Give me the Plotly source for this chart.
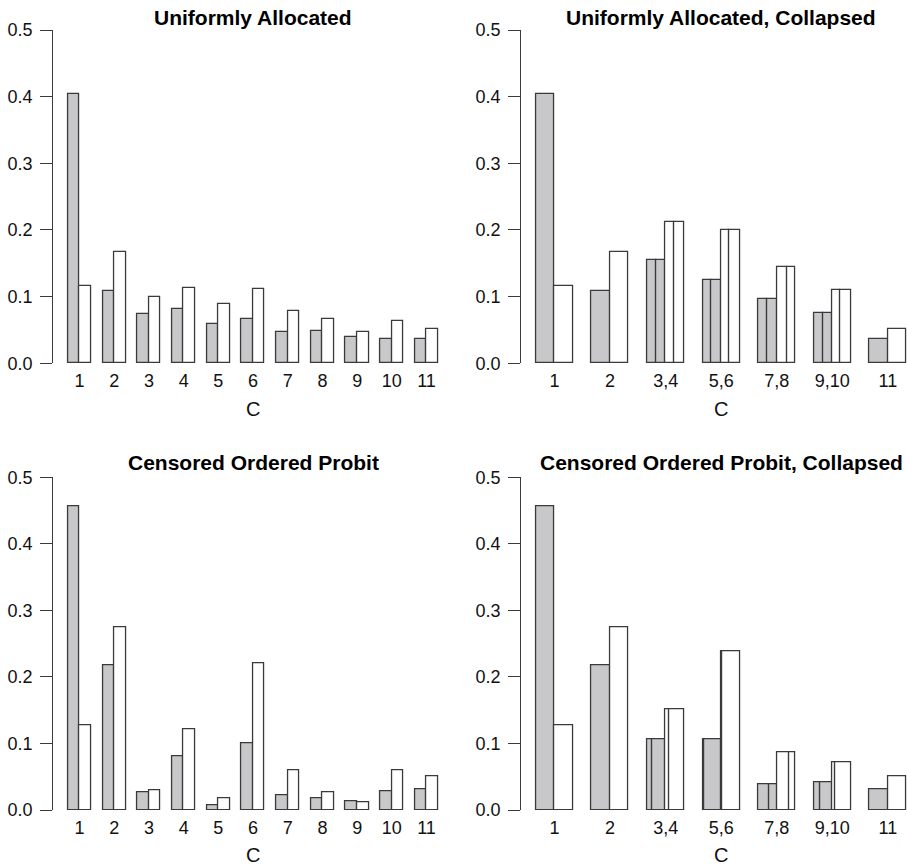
import plotly.graph_objects as go

# ---------------- data ----------------
categories = ["1", "2", "3", "4", "5", "6", "7", "8", "9", "10", "11"]

uniform_gray = [0.404, 0.109, 0.074, 0.081, 0.059, 0.066, 0.047, 0.049, 0.039, 0.036, 0.037]
uniform_white = [0.116, 0.167, 0.099, 0.113, 0.089, 0.111, 0.079, 0.066, 0.047, 0.063, 0.052]

probit_gray = [0.457, 0.217, 0.027, 0.080, 0.007, 0.100, 0.022, 0.017, 0.013, 0.028, 0.031]
probit_white = [0.127, 0.274, 0.030, 0.121, 0.017, 0.221, 0.059, 0.027, 0.012, 0.060, 0.051]

collapsed_groups = [["1"], ["2"], ["3", "4"], ["5", "6"], ["7", "8"], ["9", "10"], ["11"]]
collapsed_labels = ["1", "2", "3,4", "5,6", "7,8", "9,10", "11"]

titles = ["Uniformly Allocated", "Uniformly Allocated, Collapsed",
          "Censored Ordered Probit", "Censored Ordered Probit, Collapsed"]
y_ticks = [0.0, 0.1, 0.2, 0.3, 0.4, 0.5]
x_title = "C"

# ---------------- styling ----------------
W, H = 907, 868
FONT = "Liberation Sans"
GRAY = "#c8c8ca"
WHITE = "#ffffff"
EDGE = "#3a3a3a"
LW = 1.3

fig = go.Figure()


def px_x(p):
    return p / W


def px_y(p):
    return 1 - p / H


# panel geometry (pixels)
left_dom = [px_x(53.2), px_x(452.9)]
right_dom = [px_x(521.2), 1.0]
top_dom = [px_y(363.3), px_y(30.0)]
bot_dom = [px_y(810.0), px_y(477.3)]

panels = [
    dict(ax="", xd=left_dom, yd=top_dom, rng=[-0.28, 34.28], kind="full",
         g=uniform_gray, w=uniform_white, cx=253.0, ty=17.0, cy=409.0),
    dict(ax="2", xd=right_dom, yd=top_dom, rng=[0.2, 21.03], kind="coll",
         g=uniform_gray, w=uniform_white, cx=721.0, ty=17.0, cy=409.0),
    dict(ax="3", xd=left_dom, yd=bot_dom, rng=[-0.28, 34.28], kind="full",
         g=probit_gray, w=probit_white, cx=253.0, ty=462.0, cy=855.0),
    dict(ax="4", xd=right_dom, yd=bot_dom, rng=[0.2, 21.03], kind="coll",
         g=probit_gray, w=probit_white, cx=721.0, ty=462.0, cy=855.0),
]

annotations = []
for i, p in enumerate(panels):
    xa = "x" + p["ax"]
    ya = "y" + p["ax"]
    if p["kind"] == "full":
        n = len(categories)
        for vals, off, col in ((p["g"], 1.5, GRAY), (p["w"], 2.5, WHITE)):
            fig.add_trace(go.Bar(
                x=[3 * k + off for k in range(n)], y=vals, width=[1.0] * n,
                marker=dict(color=col, line=dict(color=EDGE, width=LW)),
                xaxis=xa, yaxis=ya, showlegend=False, hoverinfo="y"))
        tickvals = [3 * k + 2 for k in range(n)]
        ticktext = categories
    else:
        for vals, off, col in ((p["g"], 1.0, GRAY), (p["w"], 2.0, WHITE)):
            xs, ys, ws = [], [], []
            for gi, grp in enumerate(collapsed_groups):
                comps = [vals[categories.index(c)] for c in grp]
                total = sum(comps)
                start = 3 * gi + off
                for c in comps:
                    frac = c / total
                    xs.append(start + frac / 2)
                    ws.append(frac)
                    ys.append(total)
                    start += frac
            fig.add_trace(go.Bar(
                x=xs, y=ys, width=ws,
                marker=dict(color=col, line=dict(color=EDGE, width=LW)),
                xaxis=xa, yaxis=ya, showlegend=False, hoverinfo="y"))
        tickvals = [3 * k + 2 for k in range(len(collapsed_groups))]
        ticktext = collapsed_labels

    fig.layout["xaxis" + p["ax"]] = dict(
        domain=p["xd"], range=p["rng"], anchor=ya, showline=False,
        showgrid=False, zeroline=False, tickvals=tickvals, ticktext=ticktext,
        ticks="outside", ticklen=1, tickcolor="rgba(0,0,0,0)", automargin=False,
        tickfont=dict(family=FONT, size=18, color="#111111"), fixedrange=True)
    fig.layout["yaxis" + p["ax"]] = dict(
        domain=p["yd"], range=[0, 0.5], anchor=xa, showline=True,
        linecolor=EDGE, linewidth=1.3, showgrid=False, zeroline=False,
        tickvals=y_ticks, ticktext=["%.1f" % v for v in y_ticks],
        ticks="outside", ticklen=12, tickwidth=1.3, tickcolor=EDGE,
        ticklabelstandoff=4, automargin=False,
        tickfont=dict(family=FONT, size=18, color="#111111"), fixedrange=True)

    annotations.append(dict(
        text="<b>%s</b>" % titles[i], x=px_x(p["cx"]), y=px_y(p["ty"]),
        xref="paper", yref="paper", xanchor="center", yanchor="middle",
        showarrow=False, font=dict(family=FONT, size=21, color="#000000")))
    annotations.append(dict(
        text=x_title, x=px_x(p["cx"]), y=px_y(p["cy"]),
        xref="paper", yref="paper", xanchor="center", yanchor="middle",
        showarrow=False, font=dict(family=FONT, size=20, color="#111111")))

fig.update_layout(
    width=W, height=H, margin=dict(l=0, r=0, t=0, b=0, pad=0),
    paper_bgcolor="white", plot_bgcolor="white", template="none",
    barmode="overlay", bargap=0, annotations=annotations,
    font=dict(family=FONT), showlegend=False)

fig.write_html(
    "out.html",
    config={"displayModeBar": False},
    post_script="document.body.style.margin='0px';document.body.style.overflow='hidden';",
)
